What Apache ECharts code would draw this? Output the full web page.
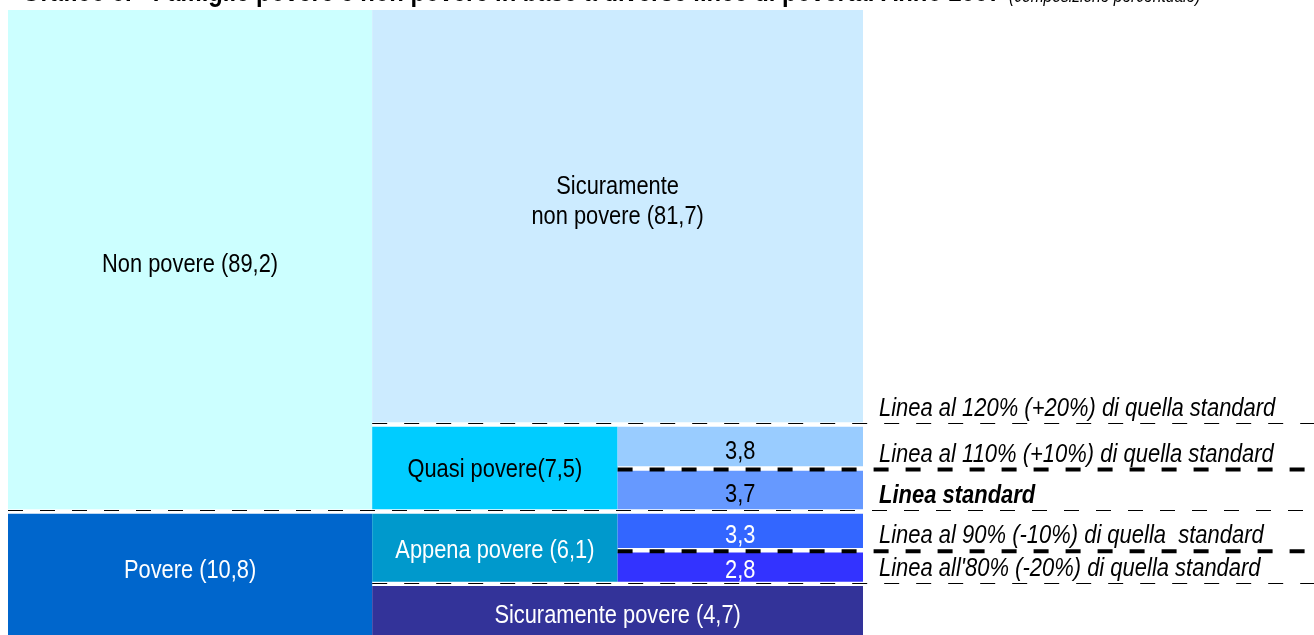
<!DOCTYPE html>
<html>
<head>
<meta charset="utf-8">
<script src="https://cdn.jsdelivr.net/npm/echarts@6/dist/echarts.min.js"></script>
<style>
html,body{margin:0;padding:0;background:#ffffff;overflow:hidden}
#chart{width:1314px;height:635px}
</style>
</head>
<body>
<div id="chart"></div>
<script>
// ---------------- DATA ----------------
const titleBold = 'Grafico 5. - Famiglie povere e non povere in base a diverse linee di povertà. Anno 2007';
const titleItalic = '(composizione percentuale)';

const blockNames = ['Non povere', 'Povere', 'Sicuramente non povere', 'Quasi povere',
  'Appena povere', 'Sicuramente povere', 'Quasi povere (sopra)', 'Quasi povere (sotto)',
  'Appena povere (sopra)', 'Appena povere (sotto)'];
const blockValues = [89.2, 10.8, 81.7, 7.5, 6.1, 4.7, 3.8, 3.7, 3.3, 2.8];
const blockLabels = ['Non povere (89,2)', 'Povere (10,8)', 'Sicuramente\nnon povere (81,7)',
  'Quasi povere(7,5)', 'Appena povere (6,1)', 'Sicuramente povere (4,7)', '3,8', '3,7', '3,3', '2,8'];
// structure: which columns / which levels (bottom -> top) each block covers
const blockColumns = [[0, 0], [0, 0], [1, 2], [1, 1], [1, 1], [1, 2], [2, 2], [2, 2], [2, 2], [2, 2]];
const blockLevels = [[3, 5], [0, 2], [5, 5], [3, 4], [1, 2], [0, 0], [4, 4], [3, 3], [2, 2], [1, 1]];
// finest block of every level, bottom -> top
const levelBlock = [5, 9, 8, 7, 6, 2];

const povertyLineLabels = ["Linea all'80% (-20%) di quella standard", 'Linea al 90% (-10%) di quella  standard',
  'Linea standard', 'Linea al 110% (+10%) di quella standard', 'Linea al 120% (+20%) di quella standard'];
const povertyLineAboveLevel = [0, 1, 2, 3, 4];
const povertyLineFromColumn = [1, 2, 0, 2, 1];

// ---------------- STYLE / LAYOUT ----------------
const blockColors = ['#CCFFFF', '#0066CC', '#CCEBFF', '#00CCFF', '#0099CC', '#333399',
  '#99CCFF', '#6699FF', '#3366FF', '#3333FF'];
const blockTextColors = ['#000', '#fff', '#000', '#000', '#fff', '#fff', '#000', '#000', '#fff', '#fff'];
const labelShift = [5, -4, -14, 2, 3, 5, 5, 5, 5, 4];
const lineThick = [false, true, false, true, false];
const lineBold = [false, false, true, false, false];
const columnWeights = [1.484, 1, 1];
const upperCompression = 0.485; // the top band is drawn shortened (schematic, as in the original)
const levelGap = 0.43;
const FONT = "'Liberation Sans', Arial, sans-serif";
const NARROW = 0.84; // Arial Narrow look
const NARROW_LINES = 0.845;

const levelHeight = levelBlock.map((b, i) => blockValues[b] * (i === levelBlock.length - 1 ? upperCompression : 1));
const levelBottom = [], levelTop = [];
let acc = 0;
levelHeight.forEach((h, i) => { if (i > 0) acc += levelGap; levelBottom.push(acc); acc += h; levelTop.push(acc); });
const yMax = acc;
const colEdges = [0];
columnWeights.forEach(w => colEdges.push(colEdges[colEdges.length - 1] + w));

const blockData = blockValues.map((v, i) => [
  colEdges[blockColumns[i][0]], colEdges[blockColumns[i][1] + 1],
  levelBottom[blockLevels[i][0]], levelTop[blockLevels[i][1]], v, i]);

const lineData = povertyLineLabels.map((t, i) => {
  const k = povertyLineAboveLevel[i];
  return [colEdges[povertyLineFromColumn[i]], (levelTop[k] + levelBottom[k + 1]) / 2, i];
});

const chart = echarts.init(document.getElementById('chart'), null, { renderer: 'canvas' });

chart.setOption({
  animation: false,
  backgroundColor: '#ffffff',
  graphic: [{
    type: 'text', x: 22, y: -7, scaleX: 0.82,
    style: { text: titleBold, font: 'bold 29px ' + FONT, fill: '#000', align: 'left', verticalAlign: 'middle' }
  }, {
    type: 'text', x: 1009, y: -3, scaleX: 0.82,
    style: { text: titleItalic, font: 'italic 19px ' + FONT, fill: '#000', align: 'left', verticalAlign: 'middle' }
  }],
  grid: { left: 8, right: 451, top: 10, bottom: 0 },
  xAxis: { type: 'value', min: 0, max: colEdges[colEdges.length - 1], show: false },
  yAxis: { type: 'value', min: 0, max: yMax, show: false },
  series: [{
    type: 'custom',
    data: blockData,
    encode: { x: [0, 1], y: [2, 3] },
    renderItem: function (params, api) {
      const i = api.value(5);
      const p0 = api.coord([api.value(0), api.value(3)]);
      const p1 = api.coord([api.value(1), api.value(2)]);
      const x = p0[0], y = p0[1], w = p1[0] - p0[0], h = p1[1] - p0[1];
      return {
        type: 'group',
        children: [{
          type: 'rect', shape: { x: x, y: y, width: w, height: h },
          style: { fill: blockColors[i] }
        }, {
          type: 'text',
          x: x + w / 2, y: y + h / 2 + labelShift[i], scaleX: NARROW,
          style: {
            text: blockLabels[i], align: 'center', verticalAlign: 'middle',
            font: '26px ' + FONT, fill: blockTextColors[i], lineHeight: 30
          }
        }]
      };
    }
  }, {
    type: 'custom',
    data: lineData,
    encode: { x: 0, y: 1 },
    z: 5,
    renderItem: function (params, api) {
      const i = api.value(2);
      const p = api.coord([api.value(0), api.value(1)]);
      const rightEdge = api.coord([colEdges[colEdges.length - 1], 0])[0];
      const thick = lineThick[i];
      const y = thick ? p[1] + 1 : Math.round(p[1] - 1) + 0.5;
      return {
        type: 'group',
        children: [{
          type: 'line',
          shape: { x1: p[0], y1: y, x2: api.getWidth(), y2: y },
          style: { stroke: '#000', lineWidth: thick ? 4 : 1.2, lineDash: [15, 17], lineDashOffset: 0 }
        }, {
          type: 'text',
          x: rightEdge + 16, y: y - 2, scaleX: NARROW_LINES,
          style: {
            text: povertyLineLabels[i], align: 'left', verticalAlign: 'bottom',
            font: (lineBold[i] ? 'italic bold ' : 'italic ') + '26px ' + FONT, fill: '#000'
          }
        }]
      };
    }
  }]
});
</script>
</body>
</html>
